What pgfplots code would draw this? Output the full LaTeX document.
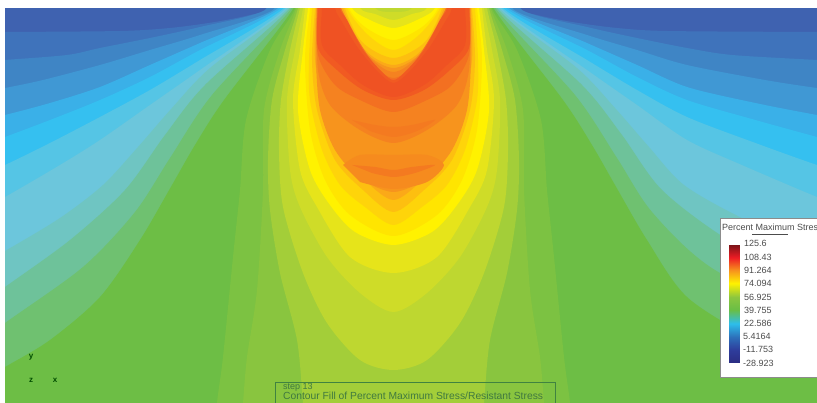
\documentclass[border=0pt]{standalone}
\usepackage{fontspec}
\setmainfont{Liberation Sans}
\usepackage{pgfplots}
\pgfplotsset{compat=1.18}

% legend bar colours, position = value + 29
\pgfplotsset{colormap={fem}{
  rgb255(0)=(43,45,130) rgb255(17)=(46,60,155) rgb255(34)=(45,110,185)
  rgb255(51)=(45,190,235) rgb255(69)=(105,190,70) rgb255(86)=(140,198,63)
  rgb255(103)=(255,242,0) rgb255(120)=(247,148,29) rgb255(137)=(237,28,36)
  rgb255(155)=(125,20,25)
}}

% contour bands, low to high
\definecolor{b0}{HTML}{3F62B0}\definecolor{b1}{HTML}{3F73BB}\definecolor{b2}{HTML}{3F85C5}
\definecolor{b3}{HTML}{4098D4}\definecolor{b4}{HTML}{3AB0E8}\definecolor{b5}{HTML}{35C0F0}
\definecolor{b6}{HTML}{55C5E5}\definecolor{b7}{HTML}{6CC6DC}\definecolor{b8}{HTML}{6FC5C2}
\definecolor{b9}{HTML}{6EC29A}\definecolor{b10}{HTML}{6FC170}\definecolor{b11}{HTML}{6DBE45}
\definecolor{y12}{HTML}{7CC242}\definecolor{y13}{HTML}{89C53F}\definecolor{y14}{HTML}{A3CE39}
\definecolor{y15}{HTML}{BED730}\definecolor{y16}{HTML}{CFDC28}\definecolor{y17}{HTML}{E6E41A}
\definecolor{y18}{HTML}{FFF200}\definecolor{y19}{HTML}{FFE500}\definecolor{y20}{HTML}{FED40A}
\definecolor{y21}{HTML}{FDBF10}\definecolor{y22}{HTML}{FBA918}\definecolor{y23}{HTML}{F7941D}
\definecolor{y24}{HTML}{F58220}\definecolor{y25}{HTML}{F37021}\definecolor{y26}{HTML}{F15A22}
\definecolor{y27}{HTML}{EF5223}\definecolor{r1}{HTML}{F68B1E}\definecolor{r2}{HTML}{F47A20}

% outlines in pixels, y from the top; they run off the canvas where they are cut
\pgfplotsset{bandstyle/.style={fill=#1, draw=none, smooth, tension=0.5, forget plot}}
% left half and its mirror, down to the bottom and out to the left
\newcommand\fan[2]{%
  \addplot[bandstyle=#1] table[row sep=\\, x=x, y expr=403-\thisrow{y}] {x y\\ #2 420 -20\\ 420 440\\ -30 440\\};
  \addplot[bandstyle=#1] table[row sep=\\, x expr={787-\thisrow{x}+max(0,100-\thisrow{x})*0.368}, y expr=403-\thisrow{y}] {x y\\ #2 420 -20\\ 420 440\\ -30 440\\};
}
% same, starting from the bottom edge
\newcommand\lobe[2]{%
  \addplot[bandstyle=#1] table[row sep=\\, x=x, y expr=403-\thisrow{y}] {x y\\ #2 420 -20\\ 420 440\\};
  \addplot[bandstyle=#1] table[row sep=\\, x expr=787-\thisrow{x}, y expr=403-\thisrow{y}] {x y\\ #2 420 -20\\ 420 440\\};
}
% whole closed outline
\newcommand\loopband[2]{%
  \addplot[bandstyle=#1] table[row sep=\\, x=x, y expr=403-\thisrow{y}] {x y\\ #2};
}

\begin{document}
\begin{tikzpicture}
\begin{axis}[
    scale only axis,
    width=817pt, height=403pt,
    xmin=0, xmax=817, ymin=0, ymax=403,
    hide axis,
    colormap name=fem,
    point meta min=-29, point meta max=125.6,
    font=\fontsize{9}{10}\selectfont,
    ]
  \fill[b0] (axis cs:0,0) rectangle (axis cs:817,403);

  \fan{b1}{-30 32\\ 5 32\\ 120 31\\ 170 28\\ 215 22\\ 250 15\\ 270 8\\ 275 -20\\}
  \fan{b2}{-30 63\\ 5 60\\ 67 55\\ 100 48\\ 150 38\\ 200 27\\ 265 10\\ 275 -20\\}
  \fan{b3}{-30 94\\ 5 88\\ 43 80\\ 100 65\\ 150 50\\ 200 35\\ 273 10\\ 282 -20\\}
  \fan{b4}{-30 123\\ 5 115\\ 50 103\\ 100 87\\ 150 65\\ 200 43\\ 277 9\\ 285 -20\\}
  \fan{b5}{-30 150\\ 5 137\\ 50 120\\ 100 100\\ 150 77\\ 200 50\\ 280 9\\ 288 -20\\}
  \fan{b6}{-30 180\\ 5 165\\ 50 143\\ 100 117\\ 150 90\\ 200 60\\ 283 9\\ 290 -20\\}
  \fan{b7}{-30 215\\ 5 197\\ 60 165\\ 100 140\\ 150 105\\ 200 70\\ 285 9\\ 292 -20\\}
  \fan{b8}{-30 270\\ 5 251\\ 60 218\\ 103 185\\ 138 147\\ 172 108\\ 210 68\\ 287 9\\ 294 -20\\}
  \fan{b9}{-30 312\\ 5 287\\ 70 240\\ 125 190\\ 165 135\\ 205 85\\ 289 9\\ 296 -20\\}
  \fan{b10}{-30 350\\ 5 323\\ 83 267\\ 135 212\\ 170 158\\ 212 95\\ 291 9\\ 298 -20\\}
  \fan{b11}{-30 387\\ 5 367\\ 50 340\\ 100 297\\ 140 240\\ 172 185\\ 195 145\\ 224 100\\ 293 9\\ 299 -20\\}
  \lobe{y12}{215 440\\ 217 403\\ 223 357\\ 233 257\\ 240 190\\ 246 120\\ 270 50\\ 295 9\\ 300 -20\\}
  \lobe{y13}{240 440\\ 243 403\\ 247 357\\ 257 290\\ 263 190\\ 264 110\\ 280 50\\ 296 9\\ 301 -20\\}
  \lobe{y14}{306 440\\ 303 403\\ 297 340\\ 280 273\\ 270 210\\ 268 160\\ 272 100\\ 285 50\\ 298 8\\ 302 -20\\}

  \loopband{y15}{302 -20\\ 485 -20\\ 487 8\\ 497 50\\ 506 100\\ 508 150\\ 504 207\\ 484 273\\ 460 323\\ 427 360\\ 393.5 370\\ 360 360\\ 327 323\\ 303 273\\ 283 207\\ 279 150\\ 281 100\\ 290 50\\ 300 8\\}
  \loopband{y16}{372 -20\\ 375 8\\ 393.5 12\\ 412 8\\ 415 -20\\ 482 -20\\ 484 8\\ 492 50\\ 500 100\\ 497 170\\ 487 207\\ 460 257\\ 427 293\\ 393.5 312\\ 360 293\\ 327 257\\ 300 207\\ 290 170\\ 287 100\\ 295 50\\ 303 8\\ 305 -20\\}
  \loopband{y17}{358 -20\\ 360 8\\ 375 14\\ 393.5 20\\ 412 14\\ 427 8\\ 429 -20\\ 480 -20\\ 482 8\\ 487 50\\ 494 100\\ 487 170\\ 470 207\\ 437 257\\ 393.5 273\\ 350 257\\ 317 207\\ 300 170\\ 293 100\\ 300 50\\ 305 8\\ 307 -20\\}
  \loopband{y18}{350 -20\\ 352 8\\ 370 20\\ 393.5 28\\ 417 20\\ 435 8\\ 437 -20\\ 477 -20\\ 479 8\\ 484 50\\ 489 110\\ 477 170\\ 457 205\\ 432 232\\ 393.5 245\\ 355 232\\ 330 205\\ 310 170\\ 298 110\\ 303 50\\ 308 8\\ 310 -20\\}
  \loopband{y19}{347 -20\\ 349 8\\ 365 27\\ 393.5 40\\ 422 27\\ 438 8\\ 440 -20\\ 475 -20\\ 477 8\\ 482 60\\ 477 130\\ 462 180\\ 437 215\\ 393.5 236\\ 350 215\\ 325 180\\ 310 130\\ 305 60\\ 310 8\\ 312 -20\\}
  \loopband{y20}{345 -20\\ 347 8\\ 368 35\\ 393.5 50\\ 419 35\\ 440 8\\ 442 -20\\ 473 -20\\ 475 8\\ 478 60\\ 477 100\\ 465 150\\ 447 185\\ 422 207\\ 393.5 225\\ 365 207\\ 340 185\\ 322 150\\ 310 100\\ 309 60\\ 312 8\\ 314 -20\\}
  \loopband{y21}{343 -20\\ 345 8\\ 362 42\\ 393.5 58\\ 425 42\\ 442 8\\ 444 -20\\ 470 -20\\ 472 8\\ 475 60\\ 470 110\\ 452 160\\ 424 190\\ 393.5 212\\ 363 190\\ 335 160\\ 317 110\\ 312 60\\ 315 8\\ 317 -20\\}
  \loopband{y22}{341 -20\\ 343 8\\ 365 50\\ 393.5 65\\ 422 50\\ 444 8\\ 446 -20\\ 469 -20\\ 471 8\\ 472 60\\ 462 110\\ 445 150\\ 422 180\\ 393.5 200\\ 365 180\\ 342 150\\ 325 110\\ 315 60\\ 316 8\\ 318 -20\\}
  \loopband{y23}{339 -20\\ 341 8\\ 365 52\\ 393.5 68\\ 422 52\\ 446 8\\ 448 -20\\ 468 -20\\ 470 8\\ 471 60\\ 467 110\\ 452 150\\ 427 178\\ 393.5 192\\ 360 178\\ 335 150\\ 320 110\\ 316 60\\ 317 8\\ 319 -20\\}
  \loopband{y24}{338 -20\\ 340 8\\ 368 55\\ 393.5 72\\ 419 55\\ 447 8\\ 449 -20\\ 468 -20\\ 470 8\\ 469 70\\ 457 105\\ 427 130\\ 393.5 143\\ 360 130\\ 330 105\\ 318 70\\ 317 8\\ 319 -20\\}
  \loopband{r1}{343 165\\ 360 155\\ 393.5 155\\ 427 155\\ 444 165\\ 427 182\\ 393.5 189\\ 360 182\\}
  \loopband{y25}{339 -20\\ 341 8\\ 372 62\\ 393.5 78\\ 415 62\\ 446 8\\ 448 -20\\ 468 -20\\ 470 8\\ 469 55\\ 452 85\\ 427 100\\ 393.5 112\\ 360 100\\ 335 85\\ 318 55\\ 317 8\\ 319 -20\\}
  \loopband{r2}{352 120\\ 375 125\\ 393.5 127\\ 412 125\\ 435 120\\ 417 131\\ 393.5 137\\ 370 131\\}
  \loopband{r2}{352 165\\ 375 167\\ 393.5 170\\ 412 167\\ 435 165\\ 415 173\\ 393.5 177\\ 372 173\\}
  \loopband{y26}{338 -20\\ 340 8\\ 347 20\\ 363 50\\ 383 73\\ 393.5 80\\ 404 73\\ 424 50\\ 440 20\\ 447 8\\ 449 -20\\ 467 -20\\ 469 8\\ 469 48\\ 450 70\\ 424 90\\ 393.5 100\\ 363 90\\ 337 70\\ 318 48\\ 318 8\\ 320 -20\\}
  \loopband{y27}{333 -20\\ 335 8\\ 342 22\\ 358 48\\ 378 72\\ 393.5 83\\ 409 72\\ 429 48\\ 445 22\\ 452 8\\ 454 -20\\ 463 -20\\ 465 8\\ 465 45\\ 447 65\\ 424 85\\ 393.5 97\\ 363 85\\ 340 65\\ 322 45\\ 322 8\\ 324 -20\\}

  % white margins at the left and the top
  \fill[white] (axis cs:0,0) rectangle (axis cs:5,403);
  \fill[white] (axis cs:0,395) rectangle (axis cs:817,403);

  % legend box, its right side runs off the picture
  \fill[white] (axis cs:720,26) rectangle (axis cs:817,185);
  \draw[draw=black!45, line width=0.7pt] (axis cs:817,26) -- (axis cs:720,26) -- (axis cs:720,185) -- (axis cs:817,185);
  \addplot[surf, shader=interp, mesh/cols=2, point meta=explicit, forget plot]
    coordinates {
      (729,40) [-28.923] (739,40) [-28.923]
      (729,53) [-11.753] (739,53) [-11.753]
      (729,66) [5.4164] (739,66) [5.4164]
      (729,80) [22.586] (739,80) [22.586]
      (729,93) [39.755] (739,93) [39.755]
      (729,106) [56.925] (739,106) [56.925]
      (729,120) [74.094] (739,120) [74.094]
      (729,133) [91.264] (739,133) [91.264]
      (729,146) [108.43] (739,146) [108.43]
      (729,158) [125.6] (739,158) [125.6]
    };

  \node[anchor=west, inner sep=0pt, text=black!70] at (axis cs:722,176) {Percent Maximum Stres};
  \draw[black!70, line width=0.6pt] (axis cs:752,169) -- (axis cs:788,169);
  \node[anchor=west, inner sep=0pt, text=black!70] at (axis cs:744,160) {125.6};
  \node[anchor=west, inner sep=0pt, text=black!70] at (axis cs:744,146) {108.43};
  \node[anchor=west, inner sep=0pt, text=black!70] at (axis cs:744,133) {91.264};
  \node[anchor=west, inner sep=0pt, text=black!70] at (axis cs:744,120) {74.094};
  \node[anchor=west, inner sep=0pt, text=black!70] at (axis cs:744,106) {56.925};
  \node[anchor=west, inner sep=0pt, text=black!70] at (axis cs:744,93) {39.755};
  \node[anchor=west, inner sep=0pt, text=black!70] at (axis cs:744,80) {22.586};
  \node[anchor=west, inner sep=0pt, text=black!70] at (axis cs:743,67) {5.4164};
  \node[anchor=west, inner sep=0pt, text=black!70] at (axis cs:743,54) {-11.753};
  \node[anchor=west, inner sep=0pt, text=black!70] at (axis cs:743,40) {-28.923};

  % triad
  \node[text=green!30!black, font=\fontsize{8}{8}\selectfont\bfseries] at (axis cs:31,46) {y};
  \node[text=green!30!black, font=\fontsize{8}{8}\selectfont\bfseries] at (axis cs:31,23) {z};
  \node[text=green!30!black, font=\fontsize{8}{8}\selectfont\bfseries] at (axis cs:55,23) {x};

  % step box, open at the bottom
  \draw[draw=green!35!black!75, line width=0.7pt] (axis cs:275,0) -- (axis cs:275,20.5) -- (axis cs:555,20.5) -- (axis cs:555,0);
  \node[anchor=west, inner sep=0pt, text=green!30!black!75] at (axis cs:283,15.5) {step 13};
  \node[anchor=west, inner sep=0pt, text=green!30!black!75, font=\fontsize{10.3}{11}\selectfont] at (axis cs:283,7) {Contour Fill of Percent Maximum Stress/Resistant Stress};
\end{axis}
\end{tikzpicture}
\end{document}
